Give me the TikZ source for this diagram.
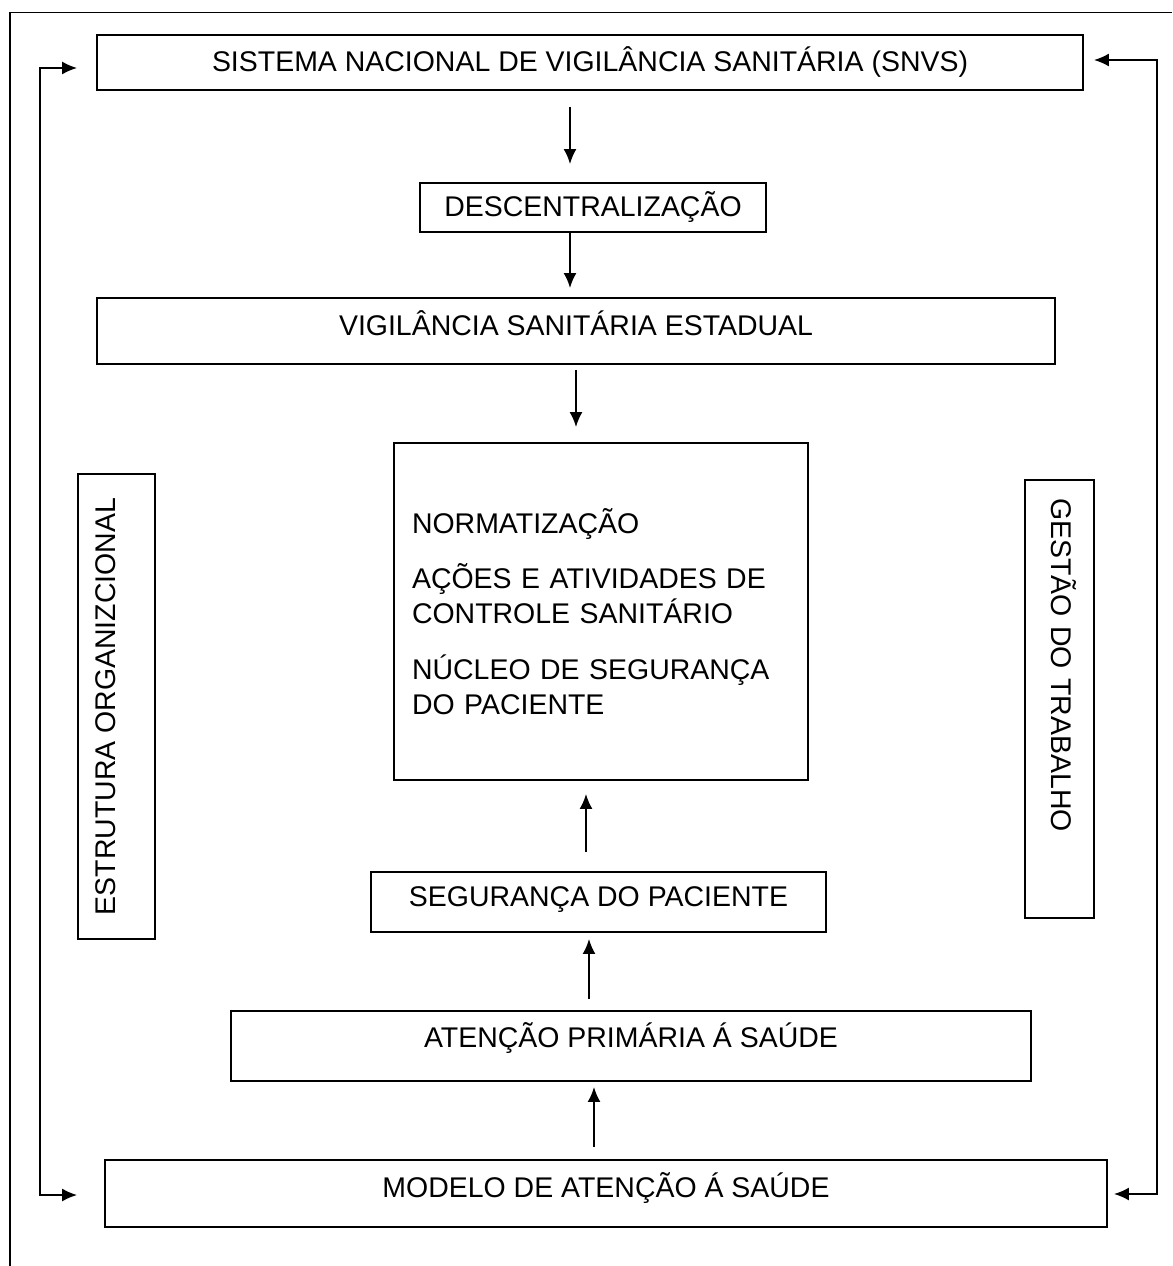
\documentclass[tikz,border=0pt]{standalone}
\usepackage{fontspec}
\setmainfont{Liberation Sans}
\usetikzlibrary{arrows.meta}

\begin{document}
\begin{tikzpicture}[x=0.02cm,y=-0.02cm,line width=1.1pt,
  >={Latex[length=0.3cm,width=0.26cm]},
  every node/.style={font=\fontsize{16.2pt}{19.5pt}\selectfont},
  caixa/.style={draw,rectangle,inner sep=0pt},
  linha/.style={text height=11.6pt}]
\useasboundingbox (0,0) rectangle (1172,1266);
\draw (1172,12.5)--(10,12.5)--(10,1266);
\node[caixa,linha,minimum width=19.72cm,minimum height=1.1cm,text depth=1.7pt] (snvs) at (590,62.5) {SISTEMA NACIONAL DE VIGILÂNCIA SANITÁRIA (SNVS)};
\node[caixa,linha,minimum width=6.92cm,minimum height=0.98cm,text depth=1.1pt] (desc) at (593,207.5) {DESCENTRALIZAÇÃO};
\node[caixa,linha,minimum width=19.16cm,minimum height=1.32cm,text depth=6.8pt] (estadual) at (576,331) {VIGILÂNCIA SANITÁRIA ESTADUAL};
\node[caixa,align=left,text width=7.56cm,inner xsep=0.36cm,minimum width=8.28cm,minimum height=6.74cm,
  font=\fontsize{16.2pt}{20.2pt}\selectfont] (nucleo) at (601,611.5) {NORMATIZAÇÃO\\[11.3pt]AÇÕES E ATIVIDADES DE\\CONTROLE SANITÁRIO\\[11.3pt]NÚCLEO DE SEGURANÇA\\DO PACIENTE};
\node[caixa,linha,minimum width=9.1cm,minimum height=1.2cm,text depth=6.8pt] (seguranca) at (598.5,902) {SEGURANÇA DO PACIENTE};
\node[caixa,linha,minimum width=16cm,minimum height=1.4cm,text depth=10.2pt] (aps) at (631,1046) {ATENÇÃO PRIMÁRIA Á SAÚDE};
\node[caixa,linha,minimum width=20.04cm,minimum height=1.34cm,text depth=7.4pt] (modelo) at (606,1193.5) {MODELO DE ATENÇÃO Á SAÚDE};
\node[caixa,linha,rotate=90,minimum width=9.3cm,minimum height=1.54cm,text depth=13pt] (estrutura) at (116.5,706.5) {ESTRUTURA ORGANIZCIONAL};
\node[caixa,linha,rotate=-90,align=left,text width=8.04cm,inner xsep=0.36cm,minimum height=1.38cm,text depth=2.8pt] (gestao) at (1059.5,699) {GESTÃO DO TRABALHO};
\draw[->,shorten <=0.32cm,shorten >=0.36cm] (snvs.south -| 570,0)--(desc.north -| 570,0);
\draw[->,shorten >=0.18cm] (desc.south -| 570,0)--(estadual.north -| 570,0);
\draw[->,shorten <=0.1cm,shorten >=0.3cm] (estadual.south -| 576,0)--(nucleo.north -| 576,0);
\draw[->,shorten <=0.38cm,shorten >=0.26cm] (seguranca.north -| 586,0)--(nucleo.south -| 586,0);
\draw[->,shorten <=0.22cm,shorten >=0.12cm] (aps.north -| 589,0)--(seguranca.south -| 589,0);
\draw[->,shorten <=0.24cm,shorten >=0.1cm] (modelo.north -| 594,0)--(aps.south -| 594,0);
\coordinate (e1) at (40,68);
\coordinate (e2) at (40,1195);
\draw[<->,shorten <=0.38cm,shorten >=0.54cm] (snvs.west |- e1)--(e1)--(e2)--(modelo.west |- e2);
\coordinate (d1) at (1157,60);
\coordinate (d2) at (1157,1194);
\draw[<->,shorten <=0.2cm,shorten >=0.12cm] (snvs.east |- d1)--(d1)--(d2)--(modelo.east |- d2);
\end{tikzpicture}
\end{document}
